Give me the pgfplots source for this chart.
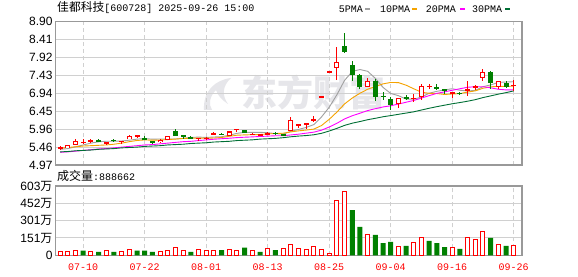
\documentclass[border=0pt]{standalone}
\usepackage{fontspec}
\usepackage{pgfplots}
\pgfplotsset{compat=1.18}
\usepackage{pgfplotstable}
\setmainfont{Liberation Sans}
\setmonofont{Liberation Mono}
\newfontfamily\cjk{Noto Sans CJK SC}
\definecolor{kred}{HTML}{FF0000}
\definecolor{kgreen}{HTML}{008000}
\definecolor{ma5c}{HTML}{A0A0A0}
\definecolor{ma10c}{HTML}{F5A300}
\definecolor{ma20c}{HTML}{FF00FF}
\definecolor{ma30c}{HTML}{006F35}
\definecolor{framec}{HTML}{999999}
\definecolor{gridc}{HTML}{D0D0D0}
\definecolor{wm}{HTML}{E6E6EA}

\pgfplotstableread{
x o h l c
0 5.43 5.49 5.38 5.45
1 5.44 5.52 5.43 5.51
2 5.53 5.68 5.52 5.64
3 5.58 5.67 5.54 5.60
4 5.63 5.68 5.58 5.65
6 5.57 5.60 5.52 5.59
8 5.61 5.64 5.55 5.63
9 5.68 5.80 5.67 5.76
10 5.76 5.79 5.70 5.78
13 5.59 5.68 5.56 5.66
14 5.66 5.77 5.65 5.76
18 5.69 5.72 5.64 5.71
19 5.69 5.75 5.65 5.71
20 5.81 5.87 5.78 5.83
22 5.77 5.90 5.76 5.89
23 5.94 5.97 5.87 5.96
25 5.80 5.85 5.78 5.82
26 5.80 5.83 5.78 5.81
27 5.82 5.87 5.79 5.84
30 5.90 6.30 5.89 6.20
31 6.06 6.09 5.98 6.08
32 6.09 6.12 5.96 6.11
33 6.20 6.32 6.15 6.22
34 6.84 6.84 6.84 6.84
35 7.52 7.52 7.52 7.52
36 7.62 8.20 7.30 7.80
40 7.12 7.36 7.10 7.28
44 6.64 6.81 6.53 6.80
46 6.79 6.91 6.71 6.81
47 6.84 7.19 6.75 7.14
48 7.12 7.20 7.05 7.14
51 6.91 6.98 6.82 6.97
53 7.02 7.28 6.87 7.04
54 7.11 7.16 7.04 7.13
55 7.35 7.60 7.27 7.52
57 7.10 7.28 7.05 7.27
59 7.15 7.30 7.01 7.17
}\upT

\pgfplotstableread{
x o h l c
5 5.65 5.68 5.60 5.63
7 5.66 5.69 5.61 5.64
11 5.72 5.76 5.65 5.66
12 5.63 5.64 5.55 5.56
15 5.90 5.95 5.76 5.77
16 5.78 5.78 5.69 5.76
17 5.74 5.76 5.67 5.68
21 5.82 5.86 5.78 5.80
24 5.92 5.94 5.84 5.85
28 5.85 5.87 5.80 5.83
29 5.81 5.83 5.76 5.78
37 8.24 8.58 8.05 8.08
38 7.71 7.82 7.28 7.44
39 7.44 7.47 7.05 7.10
41 7.27 7.32 6.73 6.83
42 6.86 6.96 6.75 6.84
43 6.77 6.84 6.48 6.61
45 6.83 6.88 6.76 6.81
49 7.12 7.18 7.04 7.05
50 7.04 7.06 6.93 7.01
52 6.95 6.97 6.90 6.93
56 7.53 7.56 7.05 7.21
58 7.23 7.27 7.09 7.10
}\downT

\pgfplotstableread{
x ma5 ma10 ma20 ma30
0 5.40 5.43 5.32 5.33
1 5.42 5.45 5.33 5.34
2 5.47 5.47 5.35 5.36
3 5.52 5.49 5.37 5.37
4 5.570 5.50 5.39 5.38
5 5.606 5.51 5.41 5.40
6 5.622 5.52 5.42 5.41
7 5.622 5.54 5.44 5.42
8 5.628 5.57 5.46 5.44
9 5.650 5.610 5.48 5.45
10 5.680 5.643 5.50 5.46
11 5.694 5.658 5.52 5.48
12 5.678 5.650 5.53 5.49
13 5.684 5.656 5.55 5.50
14 5.684 5.667 5.57 5.52
15 5.682 5.681 5.59 5.53
16 5.702 5.698 5.61 5.54
17 5.726 5.702 5.62 5.56
18 5.736 5.710 5.64 5.57
19 5.726 5.705 5.658 5.58
20 5.738 5.710 5.677 5.60
21 5.746 5.724 5.691 5.61
22 5.788 5.757 5.704 5.62
23 5.838 5.787 5.722 5.64
24 5.866 5.796 5.732 5.65
25 5.864 5.801 5.741 5.66
26 5.866 5.806 5.752 5.68
27 5.856 5.822 5.762 5.69
28 5.830 5.834 5.772 5.70
29 5.816 5.841 5.773 5.719
30 5.892 5.878 5.794 5.744
31 5.946 5.906 5.815 5.763
32 6.000 5.928 5.843 5.778
33 6.078 5.954 5.871 5.799
34 6.290 6.053 5.925 5.839
35 6.554 6.223 6.012 5.902
36 6.898 6.422 6.114 5.975
37 7.292 6.646 6.234 6.057
38 7.536 6.807 6.321 6.117
39 7.588 6.939 6.390 6.162
40 7.540 7.047 6.463 6.212
41 7.346 7.122 6.514 6.251
42 7.098 7.195 6.562 6.293
43 6.932 7.234 6.594 6.325
44 6.872 7.230 6.642 6.360
45 6.778 7.159 6.691 6.394
46 6.774 7.060 6.741 6.429
47 6.834 6.966 6.806 6.478
48 6.940 6.936 6.872 6.526
49 6.990 6.931 6.935 6.570
50 7.030 6.904 6.976 6.610
51 7.062 6.918 7.020 6.649
52 7.020 6.927 7.061 6.683
53 7.000 6.970 7.102 6.719
54 7.016 7.003 7.117 6.762
55 7.118 7.074 7.117 6.819
56 7.166 7.114 7.087 6.865
57 7.234 7.127 7.047 6.913
58 7.246 7.123 7.030 6.955
59 7.254 7.135 7.033 7.002
}\maT

\pgfplotstableread{
x v
0 29
1 29
2 43
4 35
6 43
8 29
9 52
13 29
14 41
15 67
16 41
18 52
19 43
20 43
22 52
23 46
25 38
27 55
29 55
30 96
31 61
32 52
33 78
34 52
35 17
36 478
37 557
40 183
44 78
46 113
47 157
51 70
53 157
54 139
55 209
57 96
59 89
}\volR

\pgfplotstableread{
x v
3 41
5 29
7 29
10 41
11 41
12 29
17 29
21 46
24 67
26 29
28 46
38 394
39 247
41 177
42 107
43 116
45 81
48 125
49 107
50 72
52 55
56 151
58 81
}\volG

\pgfplotsset{kax/.style={
  scale only axis, width=466.5pt,
  xmin=-0.61, xmax=60.08,
  axis line style={draw=framec, line width=1.2pt},
  major tick length=0pt,
  xtick={3,11,19,27,35,43,51,59},
  xmajorgrids, ymajorgrids,
  major x grid style={draw=gridc, line width=0.9pt, dash pattern=on 4pt off 3pt},
  major y grid style={draw=gridc, line width=1pt},
  tick label style={font=\fontsize{12}{12}\selectfont},
  yticklabel style={anchor=east, inner sep=0pt, xshift=-2.8pt},
}}

\begin{document}
\begin{tikzpicture}
\useasboundingbox (0,0) rectangle (578pt,276pt);
\fill[white] (0,0) rectangle (578pt,276pt);

% watermark
\node[text=wm, font=\cjk\bfseries\fontsize{36}{36}\selectfont, inner sep=0pt] at (313pt,183pt) {东方财富};
\fill[wm] (204pt,166pt) .. controls (203pt,185pt) and (215pt,196pt) .. (231pt,198pt)
  .. controls (222pt,190pt) and (222pt,180pt) .. (228pt,172pt)
  .. controls (222pt,176pt) and (218pt,180pt) .. (216pt,186pt)
  .. controls (210pt,180pt) and (208pt,172pt) .. (212pt,166pt) -- cycle;

% title
\node[anchor=base west, inner sep=0pt] at (57pt,264.5pt)
  {{\cjk\fontsize{11.8}{12}\selectfont 佳都科技}{\ttfamily\fontsize{10}{10}\selectfont[600728] 2025-09-26 15:00}};

% legend
\begin{scope}[every node/.style={anchor=base west, inner sep=0pt, font=\ttfamily\fontsize{10}{10}\selectfont}]
\node at (338.7pt,263.5pt) {5PMA};
\node at (380pt,263.5pt) {10PMA};
\node at (425.7pt,263.5pt) {20PMA};
\node at (472pt,263.5pt) {30PMA};
\end{scope}
\fill[ma5c] (364.7pt,265.7pt) rectangle (369.7pt,268pt);
\fill[ma10c] (412pt,265.7pt) rectangle (417pt,268pt);
\fill[ma20c] (459.7pt,265.7pt) rectangle (464.7pt,268pt);
\fill[ma30c] (505pt,265.7pt) rectangle (510pt,268pt);

% volume label
\node[anchor=base west, inner sep=0pt] at (57pt,95.3pt)
  {{\cjk\fontsize{12}{12}\selectfont 成交量}{\ttfamily\fontsize{10}{10}\selectfont:888662}};

% price panel
\begin{axis}[kax, at={(55.5pt,111pt)}, anchor=south west, height=143.3pt,
  ymin=4.97, ymax=8.90,
  ytick={4.97,5.46125,5.9525,6.44375,6.935,7.42625,7.9175,8.40875,8.90},
  yticklabels={4.97,5.46,5.96,6.45,6.94,7.43,7.92,8.41,8.90},
  xticklabels={,,,,,,,},
]
\addplot[ma5c, line width=0.9pt, mark=none] table[x=x,y=ma5]{\maT};
\addplot[ma10c, line width=0.9pt, mark=none] table[x=x,y=ma10]{\maT};
\addplot[ma20c, line width=0.9pt, mark=none] table[x=x,y=ma20]{\maT};
\addplot[ma30c, line width=0.9pt, mark=none] table[x=x,y=ma30]{\maT};
% wicks
\addplot[draw=none, mark=none, error bars/.cd, y dir=both, y explicit, error mark=none,
  error bar style={draw=kred, line width=1pt, solid}]
  table[x=x, y expr={(\thisrow{h}+\thisrow{l})/2}, y error expr={(\thisrow{h}-\thisrow{l})/2}]{\upT};
\addplot[draw=none, mark=none, error bars/.cd, y dir=both, y explicit, error mark=none,
  error bar style={draw=kgreen, line width=1pt, solid}]
  table[x=x, y expr={(\thisrow{h}+\thisrow{l})/2}, y error expr={(\thisrow{h}-\thisrow{l})/2}]{\downT};
% bodies
\addplot[draw=none, mark=none, error bars/.cd, y dir=both, y explicit, error mark=none,
  error bar style={draw=kred, line width=5pt, solid}]
  table[x=x, y expr={(\thisrow{o}+\thisrow{c})/2}, y error expr={max(abs(\thisrow{c}-\thisrow{o})/2,0.016)}]{\upT};
\addplot[draw=none, mark=none, error bars/.cd, y dir=both, y explicit, error mark=none,
  error bar style={draw=white, line width=3pt, solid}]
  table[x=x, y expr={(\thisrow{o}+\thisrow{c})/2}, y error expr={max(abs(\thisrow{c}-\thisrow{o})/2-0.03,0)}]{\upT};
\addplot[draw=none, mark=none, error bars/.cd, y dir=both, y explicit, error mark=none,
  error bar style={draw=kgreen, line width=5pt, solid}]
  table[x=x, y expr={(\thisrow{o}+\thisrow{c})/2}, y error expr={max(abs(\thisrow{c}-\thisrow{o})/2,0.016)}]{\downT};
\end{axis}

% volume panel
\begin{axis}[kax, at={(55.5pt,20.7pt)}, anchor=south west, height=69.3pt,
  ymin=0, ymax=603,
  ytick={0,150.75,301.5,452.25,603},
  yticklabels={0,151{\cjk 万},301{\cjk 万},452{\cjk 万},603{\cjk 万}},
  xticklabels={07-10,07-22,08-01,08-13,08-25,09-04,09-16,09-26},
  xticklabel style={font=\ttfamily\fontsize{10}{10}\selectfont, text=kred, anchor=base, inner sep=0pt, yshift=-14.7pt},
]
\addplot[ybar, bar width=4pt, bar shift=0pt, draw=kred, fill=white, line width=1pt] table[x=x,y=v]{\volR};
\addplot[ybar, bar width=5pt, bar shift=0pt, draw=none, fill=kgreen] table[x=x,y=v]{\volG};
\end{axis}
\end{tikzpicture}
\end{document}
